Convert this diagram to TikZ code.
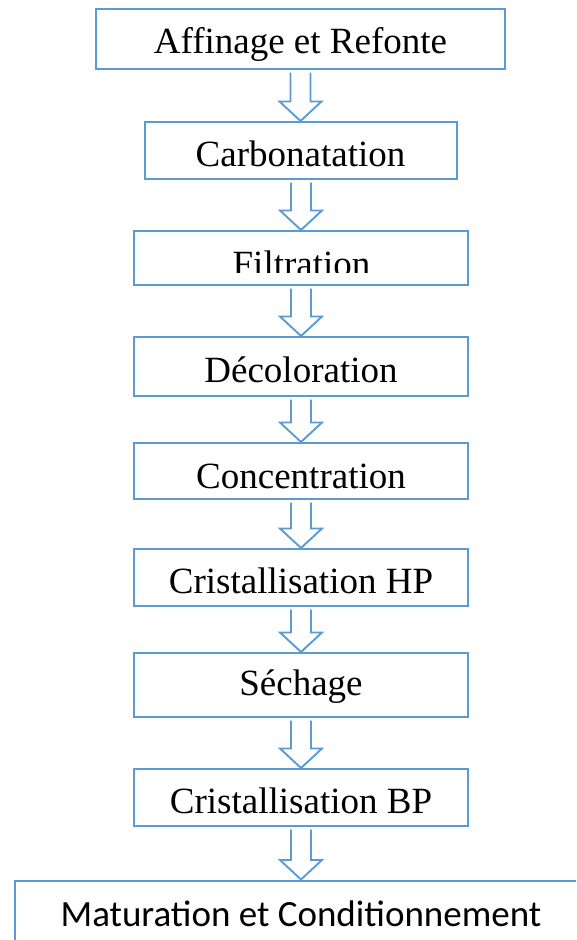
\documentclass[tikz,border=0pt]{standalone}
\usepackage{fontspec}
\setmainfont{Liberation Serif}
\newfontfamily\calibfont{Carlito}
\usetikzlibrary{calc}
\definecolor{boxblue}{HTML}{5B9BD5}
\newcommand\flowarrow[2]{%
  \coordinate (fa-s) at (#1);
  \coordinate (fa-t) at (#1 |- #2);
  \draw[flow] ($(fa-s)+(-10,2.5)$) -- ($(fa-t)+(-10,-19.5)$) -- ($(fa-t)+(-21,-19.5)$) -- (fa-t)
    -- ($(fa-t)+(21,-19.5)$) -- ($(fa-t)+(10,-19.5)$) -- ($(fa-s)+(10,2.5)$);}
\begin{document}
\begin{tikzpicture}[x=1pt,y=-1pt,
  stepbox/.style={draw=boxblue,line width=2pt,rectangle,inner sep=0pt},
  lbl/.style={anchor=base,inner sep=0pt,font=\fontsize{37}{40}\selectfont},
  flow/.style={draw=boxblue,line width=1.9pt,line join=miter}]
\useasboundingbox (0,0) rectangle (576,940);
\clip (0,0) rectangle (576,940);
% boxes
\node[stepbox,minimum width=409pt,minimum height=60pt] (b1) at (300.5,39) {};
\node[stepbox,minimum width=312pt,minimum height=57pt] (b2) at (301,150.5) {};
\node[stepbox,minimum width=334pt,minimum height=54pt] (b3) at (301,258) {};
\node[stepbox,minimum width=334pt,minimum height=59pt] (b4) at (301,366.5) {};
\node[stepbox,minimum width=334pt,minimum height=56pt] (b5) at (301,471) {};
\node[stepbox,minimum width=334pt,minimum height=57pt] (b6) at (301,577.5) {};
\node[stepbox,minimum width=334pt,minimum height=64pt] (b7) at (301,685) {};
\node[stepbox,minimum width=334pt,minimum height=57pt] (b8) at (301,797.5) {};
\node[stepbox,anchor=north west,minimum width=620pt,minimum height=100pt] (b9) at (14,879.5) {};
\coordinate (b9n) at (300,879.5);
% labels
\node[lbl] (t1) at (300.5,53) {Affinage et Refonte};
\node[lbl] (t2) at (300.5,166) {Carbonatation};
\begin{scope}
  \clip (134,231) rectangle (468,272.5);
  \node[lbl] (t3) at (301.5,276) {Filtration};
\end{scope}
\node[lbl] (t4) at (301,382) {Décoloration};
\node[lbl] (t5) at (301,488) {Concentration};
\node[lbl] (t6) at (301,593) {Cristallisation HP};
\node[lbl] (t7) at (301,695) {Séchage};
\node[lbl] (t8) at (301,813) {Cristallisation BP};
\node[lbl,font=\calibfont\fontsize{37}{40}\selectfont] (t9) at (301,926) {Maturation et Conditionnement};
% arrows
\flowarrow{b1.south}{b2.north}
\flowarrow{b2.south}{b3.north}
\flowarrow{b3.south}{b4.north}
\flowarrow{b4.south}{b5.north}
\flowarrow{b5.south}{b6.north}
\flowarrow{b6.south}{b7.north}
\flowarrow{b7.south}{b8.north}
\flowarrow{b8.south}{b9n}
\end{tikzpicture}
\end{document}
